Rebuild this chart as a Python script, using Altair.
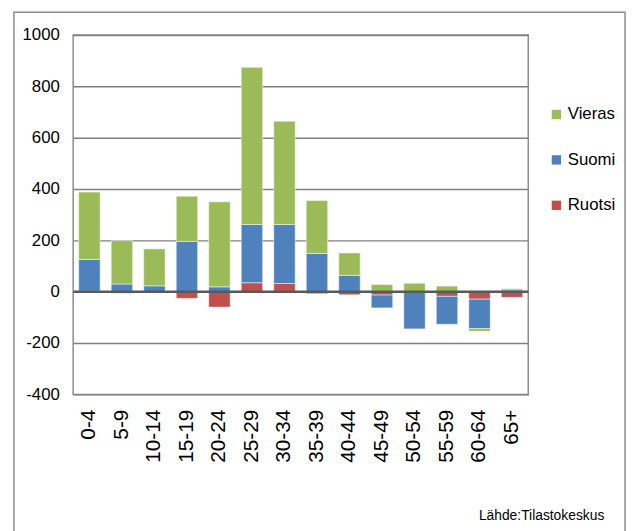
import altair as alt
import pandas as pd

ages = ["0-4", "5-9", "10-14", "15-19", "20-24", "25-29", "30-34",
        "35-39", "40-44", "45-49", "50-54", "55-59", "60-64", "65+"]
ruotsi = [2, -6, 0, -26, -60, 35, 32, -8, -12, -13, 0, -18, -29, -22]
suomi = [124, 30, 23, 196, 19, 227, 230, 149, 64, -50, -145, -109, -115, 7]
vieras = [262, 169, 144, 176, 331, 612, 402, 206, 87, 28, 33, 22, -10, 5]

series_names = ["Vieras", "Suomi", "Ruotsi"]
series_colors = ["#9BBB59", "#4F81BD", "#C0504D"]
stack_order = {"Ruotsi": 0, "Suomi": 1, "Vieras": 2}
y_ticks = [-400, -200, 0, 200, 400, 600, 800, 1000]

rows = []
for i, a in enumerate(ages):
    for name, vals in (("Ruotsi", ruotsi), ("Suomi", suomi), ("Vieras", vieras)):
        rows.append({"age": a, "series": name, "value": vals[i], "ord": stack_order[name]})
df = pd.DataFrame(rows)

FONT = "Liberation Sans"
FS = 17

bars = alt.Chart(df).mark_bar(stroke="white", strokeWidth=1, strokeOpacity=0.5).encode(
    x=alt.X("age:N", sort=ages, title=None,
            scale=alt.Scale(paddingInner=0.34, paddingOuter=0.17),
            axis=alt.Axis(labelAngle=-90, labelPadding=15, ticks=False, domain=False,
                          labelFontSize=21, labelFont=FONT, labelColor="black")),
    y=alt.Y("value:Q", stack="zero", title=None,
            scale=alt.Scale(domain=[-400, 1000], nice=False),
            axis=alt.Axis(values=y_ticks, ticks=False, domain=False, labelPadding=14,
                          labelExpr="'' + datum.value",
                          labelFontSize=FS, labelFont=FONT, labelColor="black",
                          grid=True, gridColor="#7f7f7f", gridWidth=1.5)),
    color=alt.Color("series:N", scale=alt.Scale(domain=series_names, range=series_colors),
                    legend=alt.Legend(title=None, orient="none", legendX=481, legendY=72,
                                      symbolType="square", symbolSize=90, symbolStrokeWidth=0,
                                      labelFontSize=FS, labelFont=FONT, labelColor="black",
                                      rowPadding=28, labelOffset=3)),
    order=alt.Order("ord:Q", sort="ascending"),
)

zero = alt.Chart(pd.DataFrame({"y": [0]})).mark_rule(color="#595959", strokeWidth=2.5).encode(
    y="y:Q")

frame = alt.Chart(alt.Data(values=[{"a": 1}])).mark_rect(
    fill=None, stroke="#8c8c8c", strokeWidth=1.5).encode(
    x=alt.value(-60), x2=alt.value(559), y=alt.value(-23), y2=alt.value(520))

source = alt.Chart(alt.Data(values=[{"t": "Lähde:Tilastokeskus"}])).mark_text(
    align="right", baseline="alphabetic", fontSize=14, font=FONT, color="black").encode(
    text="t:N", x=alt.value(538), y=alt.value(491))

chart = alt.layer(frame, bars, zero, source).properties(
    width=461, height=364,
    autosize=alt.AutoSizeParams(type="none"),
    padding={"left": 66, "top": 24, "right": 100, "bottom": 135},
).configure_view(stroke="#8c8c8c", strokeWidth=1.5)

chart.save("out.html", embed_options={"renderer": "svg", "actions": False})
